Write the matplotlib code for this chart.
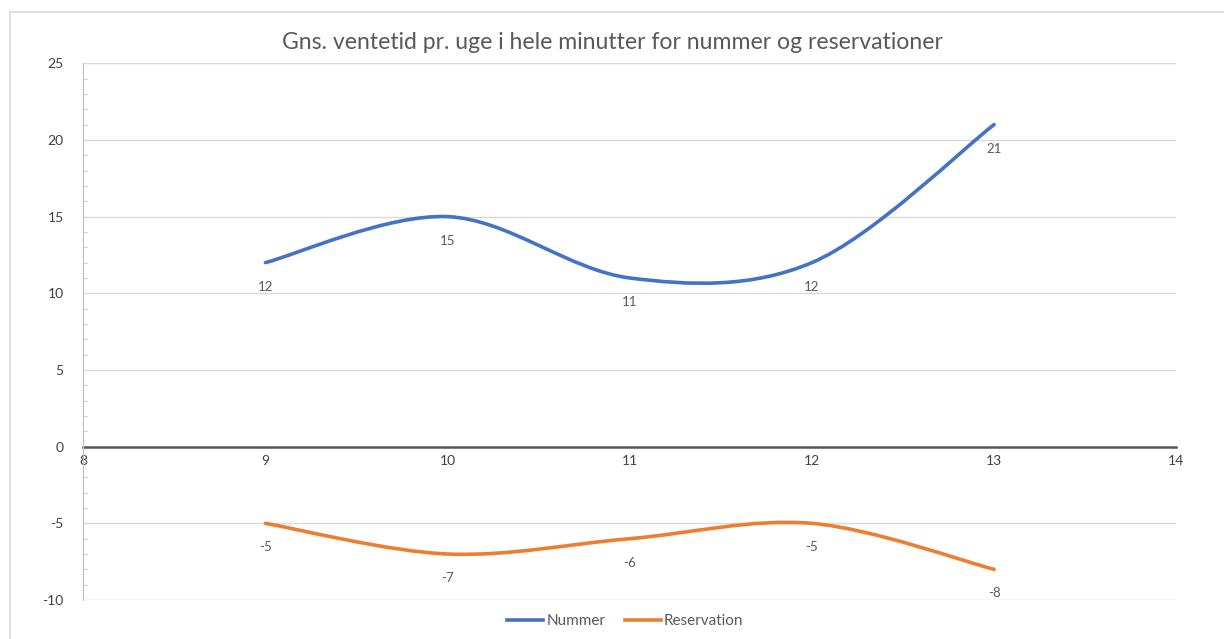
import matplotlib.pyplot as plt
from matplotlib.path import Path
from matplotlib.patches import PathPatch
from matplotlib.lines import Line2D

weeks = [9, 10, 11, 12, 13]
nummer = [12, 15, 11, 12, 21]
reservation = [-5, -7, -6, -5, -8]

title = 'Gns. ventetid pr. uge i hele minutter for nummer og reservationer'
blue = '#4472c4'
orange = '#ed7d31'
gray_text = '#595959'

plt.rcParams['font.family'] = ['Lato', 'DejaVu Sans']
plt.rcParams['axes.unicode_minus'] = False


def smooth_path(xs, ys):
    # bezier curve through the points, the way Excel smooths lines
    pts = list(zip(xs, ys))
    verts = [pts[0]]
    codes = [Path.MOVETO]
    n = len(pts)
    for i in range(n - 1):
        p0 = pts[i - 1] if i > 0 else pts[i]
        p1 = pts[i]
        p2 = pts[i + 1]
        p3 = pts[i + 2] if i + 2 < n else pts[i + 1]
        c1 = (p1[0] + (p2[0] - p0[0]) / 6, p1[1] + (p2[1] - p0[1]) / 6)
        c2 = (p2[0] - (p3[0] - p1[0]) / 6, p2[1] - (p3[1] - p1[1]) / 6)
        verts += [c1, c2, p2]
        codes += [Path.CURVE4] * 3
    return Path(verts, codes)


fig = plt.figure(figsize=(12.24, 6.39), dpi=100)
ax = fig.add_axes([0.068, 0.061, 0.893, 0.840])

for ys, col in [(nummer, blue), (reservation, orange)]:
    ax.add_patch(PathPatch(smooth_path(weeks, ys), facecolor='none',
                           edgecolor=col, lw=2.6, capstyle='round', zorder=3))
    for x, y in zip(weeks, ys):
        ax.annotate(str(y), (x, y), xytext=(0, -24), textcoords='offset pixels',
                    ha='center', va='center', fontsize=9.5, color=gray_text)

ax.set_xlim(8, 14)
ax.set_ylim(-10, 25)
ax.set_yticks(range(-10, 26, 5))
ax.set_yticks(range(-10, 26, 1), minor=True)
ax.set_xticks(range(8, 15))
ax.grid(axis='y', color='#d9d9d9', lw=1)
ax.set_axisbelow(True)

for s in ['top', 'right']:
    ax.spines[s].set_visible(False)
ax.spines['left'].set_color('#bfbfbf')
ax.spines['bottom'].set_position(('data', 0))
ax.spines['bottom'].set_color('#595959')
ax.spines['bottom'].set_linewidth(1.8)
ax.spines['bottom'].set_zorder(2)

ax.tick_params(axis='y', which='major', length=0, labelsize=10, colors='#404040', pad=14)
ax.tick_params(axis='y', which='minor', length=3, direction='in', color='#bfbfbf')
ax.tick_params(axis='x', length=0, labelsize=10, colors='#404040', pad=6)

fig.text(0.5, 0.934, title, ha='center', va='center', fontsize=16.6, color=gray_text)

handles = [Line2D([], [], color=blue, lw=2.6), Line2D([], [], color=orange, lw=2.6)]
fig.legend(handles, ['Nummer', 'Reservation'], loc='center', bbox_to_anchor=(0.511, 0.028),
           ncol=2, frameon=False, fontsize=11, labelcolor=gray_text,
           handlelength=2.35, handletextpad=0.2, columnspacing=1.3)

# chart frame
fig.add_artist(Line2D([10 / 1224, 1], [1 - 12 / 639] * 2, color='#d9d9d9', lw=1.2))
fig.add_artist(Line2D([10 / 1224] * 2, [0, 1 - 12 / 639], color='#d9d9d9', lw=1.2))

fig.savefig('out.png', dpi=100, facecolor='white')
